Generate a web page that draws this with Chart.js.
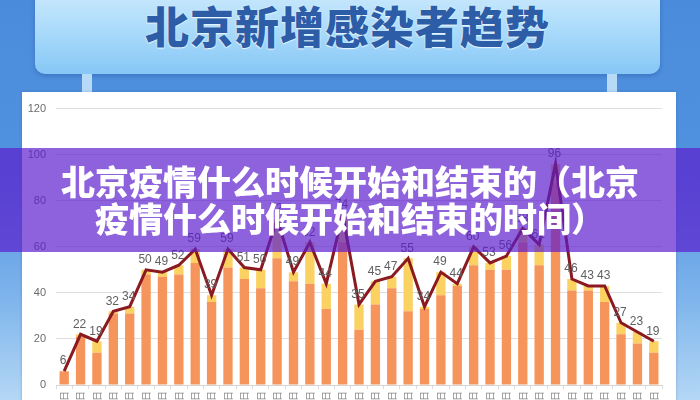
<!DOCTYPE html>
<html>
<head>
<meta charset="utf-8">
<script src="https://cdn.jsdelivr.net/npm/chart.js@4.4.1/dist/chart.umd.min.js"></script>
<style>
  html, body { margin: 0; padding: 0; }
  body {
    width: 700px; height: 400px; overflow: hidden; position: relative;
    background: linear-gradient(180deg, #4a8bdb 0%, #5293e0 45%, #7fb5ec 75%, #b4d7f5 100%);
    font-family: "Noto Sans CJK SC", sans-serif;
  }
  .banner {
    position: absolute; left: 35px; top: -20px; width: 625px; height: 94px;
    border-radius: 10px;
    background: linear-gradient(180deg, #d3edfd 0%, #a9dafa 55%, #86c7f6 100%);
    box-shadow: 0 2px 4px rgba(30, 70, 140, 0.35);
  }
  .banner h1 {
    margin: 0; position: absolute; left: 0; right: 0; top: 20px;
    text-align: center; font-size: 44px; font-weight: 900; line-height: 50px;
    color: #2c5da6; letter-spacing: 1px;
    text-shadow: 0 0 2px #e8f6ff, 0 1px 1px #e8f6ff;
  }
  .post { position: absolute; top: 74px; width: 10px; height: 18px; background: #b7dbf7; }
  .panel {
    position: absolute; left: 22px; top: 92px; width: 654px; height: 320px;
    background: #fff; box-shadow: 0 0 3px rgba(40, 80, 150, 0.3);
  }
  #chart { position: absolute; left: 0; top: 0; }
  .overlay {
    position: absolute; left: 0; top: 148px; width: 700px; height: 104px;
    background: rgba(92, 28, 204, 0.69);
    color: #fff; text-align: center; font-weight: 900;
    font-size: 34px; line-height: 37px;
  }
  .overlay div { position: absolute; left: 0; right: 0; }
</style>
</head>
<body>
<div class="banner"><h1>北京新增感染者趋势</h1></div>
<div class="post" style="left:82px"></div>
<div class="post" style="left:607px"></div>
<div class="panel"><canvas id="chart" width="654" height="320"></canvas></div>
<div class="overlay">
  <div style="top:14px">北京疫情什么时候开始和结束的（北京</div>
  <div style="top:51px">疫情什么时候开始和结束的时间）</div>
</div>
<script>
// Daily dates on the x axis
const labels = [
  '4月22日', '4月23日', '4月24日', '4月25日', '4月26日', '4月27日', '4月28日', '4月29日', '4月30日',
  '5月1日', '5月2日', '5月3日', '5月4日', '5月5日', '5月6日', '5月7日', '5月8日', '5月9日',
  '5月10日', '5月11日', '5月12日', '5月13日', '5月14日', '5月15日', '5月16日', '5月17日', '5月18日',
  '5月19日', '5月20日', '5月21日', '5月22日', '5月23日', '5月24日', '5月25日', '5月26日', '5月27日', '5月28日'
];

// Total new infections (line + labels)
const totals = [6, 22, 19, 32, 34, 50, 49, 52, 59, 39, 59, 51, 50, 72, 49, 62, 44, 74,
  35, 45, 47, 55, 34, 49, 44, 60, 53, 56, 68, 61, 96, 46, 43, 43, 27, 23, 19];

// Lower (orange) part of each bar
const orangePart = [6, 21, 14, 31, 31, 48, 47, 48, 53, 36, 51, 46, 42, 55, 45, 44, 33, 62,
  24, 35, 42, 32, 33, 39, 43, 52, 50, 50, 62, 52, 88, 41, 41, 36, 22, 18, 14];

// Upper (yellow) part of each bar
const yellowPart = [0, 1, 5, 1, 3, 2, 2, 4, 6, 3, 8, 5, 8, 17, 4, 18, 11, 12,
  11, 10, 5, 23, 1, 10, 1, 8, 3, 6, 6, 9, 8, 5, 2, 7, 5, 5, 5];

const yTicks = [0, 20, 40, 60, 80, 100, 120];

// Value labels above the line points
const pointLabels = {
  id: 'pointLabels',
  afterDatasetsDraw(chart) {
    const ctx = chart.ctx;
    const meta = chart.getDatasetMeta(2);
    ctx.save();
    ctx.font = '12px "Liberation Sans", sans-serif';
    ctx.fillStyle = '#606060';
    ctx.textAlign = 'center';
    ctx.textBaseline = 'bottom';
    meta.data.forEach((pt, i) => {
      ctx.fillText(totals[i], pt.x - 1, pt.y - 4);
    });
    ctx.restore();
  }
};

const ctx = document.getElementById('chart').getContext('2d');
new Chart(ctx, {
  data: {
    labels: labels,
    datasets: [
      {
        type: 'bar', label: 'a', data: orangePart, stack: 'bars', order: 1,
        backgroundColor: '#f6955b', barPercentage: 0.57, categoryPercentage: 1
      },
      {
        type: 'bar', label: 'b', data: yellowPart, stack: 'bars', order: 2,
        backgroundColor: '#fbd262', barPercentage: 0.57, categoryPercentage: 1
      },
      {
        type: 'line', label: 'total', data: totals, stack: 'line', order: 0,
        borderColor: '#8a1a1f', borderWidth: 3, pointRadius: 0, tension: 0, fill: false
      }
    ]
  },
  options: {
    responsive: false,
    devicePixelRatio: 1,
    animation: false,
    layout: { padding: { top: 15, right: 14, left: 0, bottom: 0 } },
    plugins: { legend: { display: false }, tooltip: { enabled: false } },
    scales: {
      x: {
        stacked: true,
        afterFit(scale) { scale.height = 27; },
        grid: { drawOnChartArea: false, drawTicks: true, tickLength: 4, offset: true, color: '#dcdcdc' },
        border: { color: '#d4d4d4' },
        ticks: {
          minRotation: 90, maxRotation: 90, autoSkip: false, padding: 2,
          color: '#8a8a8a', font: { size: 10, family: '"Noto Sans CJK SC", sans-serif' }
        }
      },
      y: {
        stacked: true,
        min: 0, max: 120,
        afterFit(scale) { scale.width = 34; },
        afterBuildTicks(scale) { scale.ticks = yTicks.map(v => ({ value: v })); },
        grid: { color: '#dedede', drawTicks: false },
        border: { display: false },
        ticks: {
          padding: 10, color: '#6b6b6b',
          font: { size: 11, family: '"Liberation Sans", sans-serif' }
        }
      }
    }
  },
  plugins: [pointLabels]
});
</script>
</body>
</html>
